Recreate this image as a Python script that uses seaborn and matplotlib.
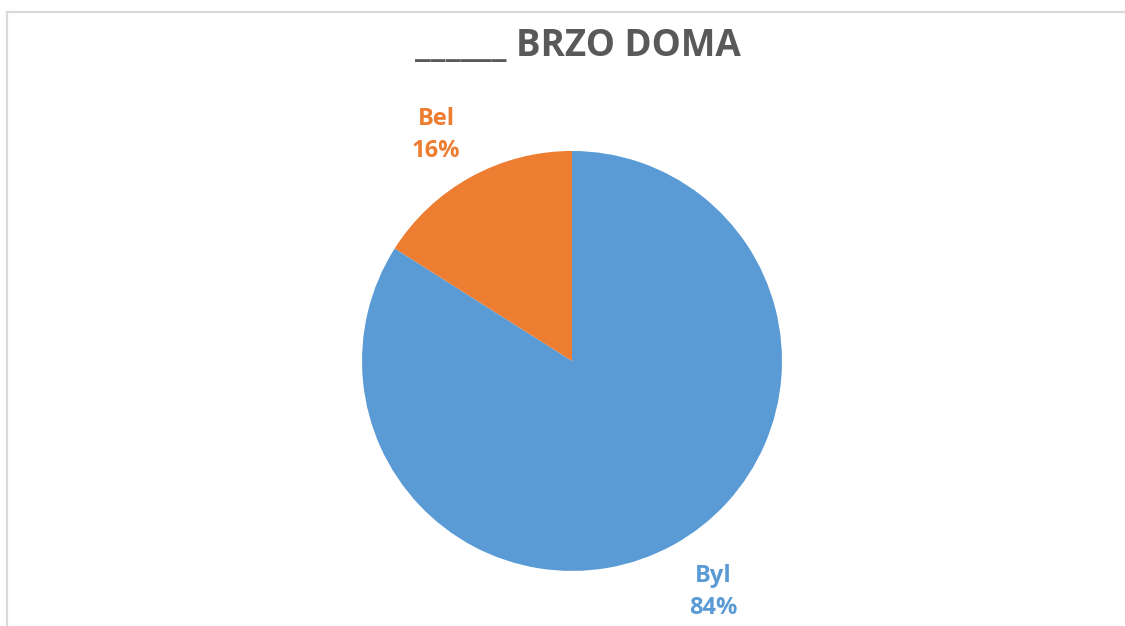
import seaborn as sns
import matplotlib.pyplot as plt
from matplotlib.lines import Line2D
from matplotlib.transforms import offset_copy

# Data
categories = ['Byl', 'Bel']
shares = [84, 16]
colors = ['#5B9BD5', '#ED7D31']
title = '______ BRZO DOMA'

sns.set_theme(style='white')
plt.rcParams['font.family'] = ['Open Sans', 'DejaVu Sans']
palette = sns.color_palette(colors)

fig = plt.figure(figsize=(11.25, 6.26), dpi=100)
ax = fig.add_axes([0.3218, 0.0879, 0.3733, 0.671])

labels = [f'{c}\n{v}%' for c, v in zip(categories, shares)]
wedges, texts = ax.pie(shares, labels=labels, colors=palette, startangle=90,
                       counterclock=False, labeldistance=1.265,
                       wedgeprops=dict(linewidth=0),
                       textprops=dict(ha='center', va='center', fontsize=17,
                                      fontweight='bold', linespacing=1.45))
# small nudges (in pixels) so labels sit where Excel put them
nudges = [(13, 2), (-8, -7)]
for t, c, (dx, dy) in zip(texts, colors, nudges):
    t.set_color(c)
    t.set_transform(offset_copy(ax.transData, fig=fig, x=dx, y=dy, units='dots'))
ax.set_xlim(-1, 1)
ax.set_ylim(-1, 1)
ax.set_aspect('equal')
ax.axis('off')

fig.text(578 / 1125, 1 - 46 / 626, title, ha='center', va='center',
         fontsize=26.5, fontweight='bold', color='#595959')

# Chart area border (left and top visible)
fig.add_artist(Line2D([6.5 / 1125, 6.5 / 1125], [0, 1 - 12 / 626],
                      transform=fig.transFigure, color='#D9D9D9', lw=1.6))
fig.add_artist(Line2D([6.5 / 1125, 1], [1 - 12 / 626, 1 - 12 / 626],
                      transform=fig.transFigure, color='#D9D9D9', lw=1.6))

fig.savefig('out.png', dpi=100, facecolor='white')
